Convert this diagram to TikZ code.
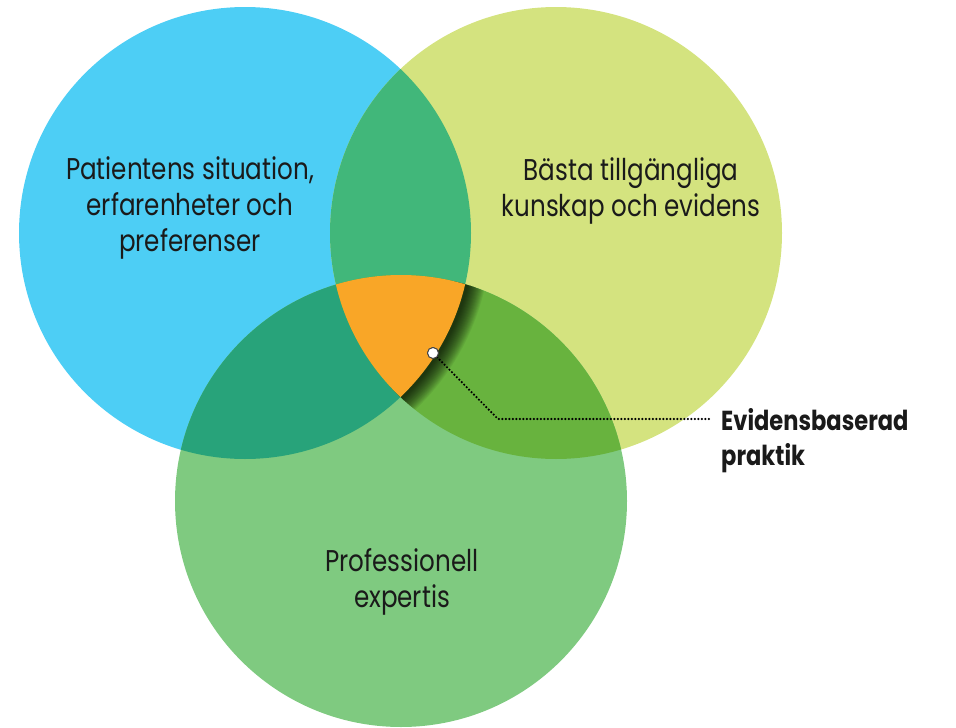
\documentclass[tikz,border=0pt]{standalone}
\usepackage{fontspec}
\setmainfont{Poppins}[FakeStretch=0.82]
\definecolor{cblue}{HTML}{4DCEF5}
\definecolor{cyel}{HTML}{D4E37F}
\definecolor{cgrn}{HTML}{7FCA80}
\definecolor{cby}{HTML}{41B77A}
\definecolor{cbg}{HTML}{28A37A}
\definecolor{cyg}{HTML}{68B33E}
\definecolor{corange}{HTML}{F9A627}
\definecolor{ctext}{HTML}{1A1A1A}
\tikzset{
  circtext/.style={align=center, text=ctext, font=\fontsize{30}{36}\selectfont, inner sep=0pt},
  lbltext/.style={align=left, text=ctext, font=\bfseries\fontsize{27.5}{35}\selectfont, inner sep=0pt},
  dotmark/.style={circle, fill=white, draw=black!75, line width=0.9pt, minimum size=11pt, inner sep=0pt},
  dotline/.style={black, line width=2.4pt, line cap=round, dash pattern=on 0pt off 3.5pt}
}
\begin{document}
\begin{tikzpicture}[x=1pt,y=-1pt]
\useasboundingbox (0,0) rectangle (956,728);
\def\myR{226pt}
\coordinate (cb) at (245,233);
\coordinate (cy) at (556,233);
\coordinate (cg) at (401,501);
% base circles
\fill[cblue] (cb) circle[radius=\myR];
\fill[cyel] (cy) circle[radius=\myR];
\fill[cgrn] (cg) circle[radius=\myR];
% pairwise overlaps
\begin{scope}
  \clip (cb) circle[radius=\myR];
  \fill[cby] (cy) circle[radius=\myR];
\end{scope}
\begin{scope}
  \clip (cb) circle[radius=\myR];
  \fill[cbg] (cg) circle[radius=\myR];
\end{scope}
\begin{scope}
  \clip (cy) circle[radius=\myR];
  \fill[cyg] (cg) circle[radius=\myR];
\end{scope}
% shadow to the right of the centre
\begin{scope}
  \clip (cy) circle[radius=\myR];
  \clip (cg) circle[radius=\myR];
  \foreach \w in {2,4,...,36}
    \draw[black, opacity=0.06, line width=\w pt] ([xshift=2pt]cb) circle[radius=\myR];
\end{scope}
% triple overlap
\begin{scope}
  \clip (cb) circle[radius=\myR];
  \clip (cy) circle[radius=\myR];
  \fill[corange] (cg) circle[radius=\myR];
\end{scope}
% texts
\node[circtext] (pat) at (190,208) {Patientens situation,\\erfarenheter och\\preferenser};
\node[circtext] (best) at (631,191) {Bästa tillgängliga\\kunskap och evidens};
\node[circtext] (prof) at (402,582) {Professionell\\expertis};
\node[lbltext, anchor=west] (ebp) at (721,441) {Evidensbaserad\\praktik};
% pointer
\node[dotmark] (pt) at (433,353) {};
\coordinate (bend) at (498,419);
\draw[dotline, shorten >=9pt] (pt) -- (bend) -- (bend -| ebp.west);
\node[dotmark] at (pt) {};
\end{tikzpicture}
\end{document}
